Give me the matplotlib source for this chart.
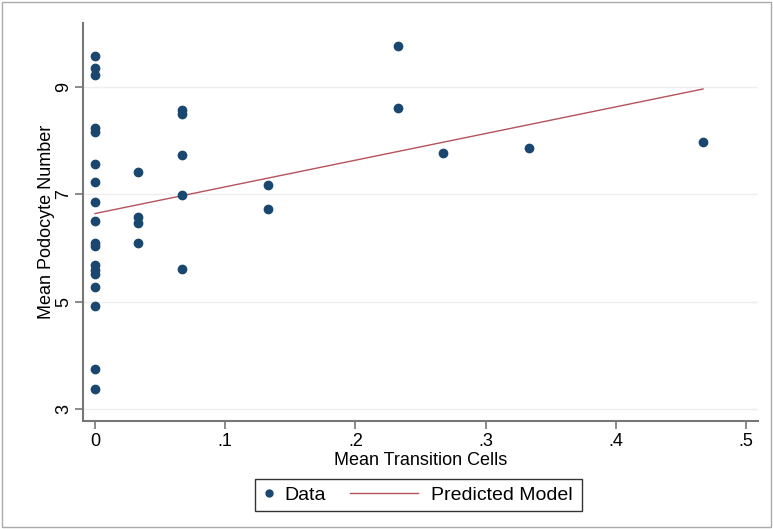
import matplotlib
matplotlib.use("Agg")
import matplotlib.pyplot as plt
from matplotlib.patches import Rectangle
from matplotlib.lines import Line2D

plt.rcParams['font.family'] = ['Liberation Sans', 'DejaVu Sans']

# data
trans_x = [0, 0, 0, 0, 0, 0, 0, 0, 0, 0, 0, 0, 0, 0, 0, 0, 0, 0,
           0.033, 0.033, 0.033, 0.033,
           0.067, 0.067, 0.067, 0.067, 0.067,
           0.133, 0.133,
           0.233, 0.233, 0.267, 0.333, 0.467]
podo_y = [9.58, 9.36, 9.22, 8.23, 8.16, 7.56, 7.22, 6.85, 6.50, 6.10,
          6.03, 5.69, 5.58, 5.52, 5.28, 4.91, 3.75, 3.37,
          7.41, 6.57, 6.47, 6.10,
          8.57, 8.49, 7.73, 6.98, 5.60,
          7.17, 6.72,
          9.77, 8.61, 7.77, 7.86, 7.97]

pred_x = [0, 0.467]
pred_y = [6.64, 8.96]

xticks = [0, 0.1, 0.2, 0.3, 0.4, 0.5]
xtick_labels = ["0", ".1", ".2", ".3", ".4", ".5"]
yticks = [3, 5, 7, 9]

dot_color = '#1a476f'
line_color = '#b5525c'

fig = plt.figure(figsize=(7.73, 5.29), dpi=100)
ax = fig.add_axes([0.1074, 0.2042, 0.8732, 0.7524])

ax.scatter(trans_x, podo_y, s=36, color=dot_color, zorder=3)
ax.plot(pred_x, pred_y, color=line_color, lw=1, zorder=2)

ax.set_xlim(-0.0092, 0.5092)
ax.set_ylim(2.776, 10.19)
ax.set_xticks(xticks)
ax.set_xticklabels(xtick_labels)
ax.set_yticks(yticks)
ax.set_yticklabels([str(v) for v in yticks], rotation=90, va='center')

ax.grid(axis='y', color='#eeeeee', lw=1)
ax.set_axisbelow(True)
for side in ['top', 'right']:
    ax.spines[side].set_visible(False)
for side in ['left', 'bottom']:
    ax.spines[side].set_color('#777777')
    ax.spines[side].set_linewidth(1.5)
ax.tick_params(direction='out', length=6, width=1.2, color='#777777', labelsize=13)
ax.tick_params(axis='y', pad=2)
ax.tick_params(axis='x', pad=3)

ax.set_xlabel("Mean Transition Cells", fontsize=13, labelpad=1)
ax.set_ylabel("Mean Podocyte Number", fontsize=13, labelpad=0)

# legend below the plot: two frameless pieces inside one box
data_handle = Line2D([], [], ls='none', marker='o', ms=5, color=dot_color)
pred_handle = Line2D([], [], color=line_color, lw=1)
fig.legend([data_handle], ['Data'], loc='center left', bbox_to_anchor=(0.3376, 0.0643),
           frameon=False, fontsize=14, handlelength=0.8, handletextpad=0.38,
           borderpad=0, borderaxespad=0)
fig.legend([pred_handle], ['Predicted Model'], loc='center left', bbox_to_anchor=(0.4528, 0.0643),
           frameon=False, fontsize=14, handlelength=3.5, handletextpad=0.67,
           borderpad=0, borderaxespad=0)
fig.patches.append(Rectangle((0.3299, 0.0340), 0.4230, 0.0605, transform=fig.transFigure,
                             fill=False, edgecolor='#333333', lw=1))

# thin frame around the whole image
fig.patches.append(Rectangle((0.002, 0.003), 0.996, 0.994, transform=fig.transFigure,
                             fill=False, edgecolor='#aaaaaa', lw=1))

fig.savefig("out.png", dpi=100)
